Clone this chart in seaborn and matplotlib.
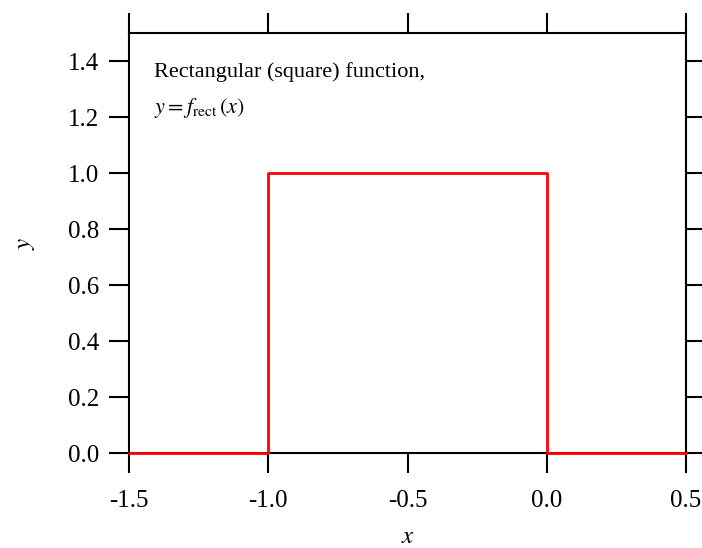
import numpy as np
import matplotlib
matplotlib.use("Agg")
import matplotlib.pyplot as plt
import seaborn as sns

# rectangular function, drawn as a step outline
x_vals = [-1.5, -1.0, -1.0, 0.0, 0.0, 0.5]
y_vals = [0.0, 0.0, 1.0, 1.0, 0.0, 0.0]

x_ticks = [-1.5, -1.0, -0.5, 0.0, 0.5]
x_ticklabels = ["-1.5", "-1.0", "-0.5", "0.0", "0.5"]
y_ticks = [0.0, 0.2, 0.4, 0.6, 0.8, 1.0, 1.2, 1.4]

sns.set_style("white")
plt.rcParams['font.family'] = ['Liberation Serif', 'DejaVu Serif']
plt.rcParams['mathtext.fontset'] = 'stix'
plt.rcParams['text.color'] = 'black'
plt.rcParams['axes.labelcolor'] = 'black'
plt.rcParams['xtick.color'] = 'black'
plt.rcParams['ytick.color'] = 'black'

fig = plt.figure(figsize=(7.02, 5.48), dpi=100)
ax = fig.add_axes([129 / 702, 1 - 453 / 548, (686 - 129) / 702, (453 - 33) / 548])

sns.lineplot(x=x_vals, y=y_vals, sort=False, estimator=None, color="red",
             linewidth=2, ax=ax)
for ln in ax.lines:
    ln.set_clip_on(False)
    ln.set_zorder(5)

ax.set_xlim(-1.5, 0.5)
ax.set_ylim(0, 1.5)
ax.set_xticks(x_ticks)
ax.set_xticklabels(x_ticklabels)
ax.set_yticks(y_ticks)
ax.set_yticklabels([f"{v:.1f}" for v in y_ticks])

for s in ax.spines.values():
    s.set_color("black")
    s.set_linewidth(1.5)
ax.tick_params(direction="out", length=14.5, width=1.5, color="black",
               labelcolor="black", labelsize=18,
               bottom=True, left=True, top=True, right=True,
               labeltop=False, labelright=False, pad=7)
ax.tick_params(axis="x", pad=12)

ax.set_xlabel("$x$", fontsize=18, labelpad=10)
ax.set_ylabel("$y$", fontsize=18, labelpad=22)

ax.text(0.045, 0.93, "Rectangular (square) function,", transform=ax.transAxes,
        fontsize=16, va="top", ha="left")
ax.text(0.045, 0.85, r"$y = f_{\rm rect}\,(x)$", transform=ax.transAxes,
        fontsize=16, va="top", ha="left")

fig.savefig("out.png", dpi=100)
